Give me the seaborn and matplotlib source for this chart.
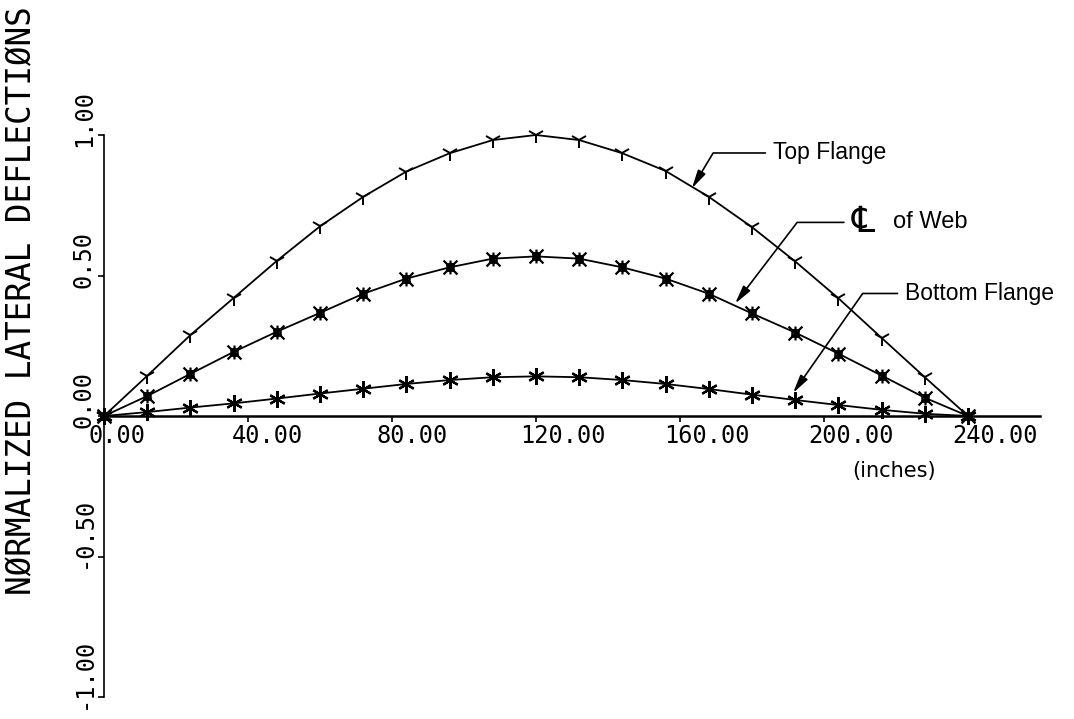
import matplotlib
matplotlib.use("Agg")
import matplotlib.pyplot as plt
import matplotlib.transforms as mtransforms
from matplotlib.path import Path
import seaborn as sns

# ---- data ----
x_in = [0, 12, 24, 36, 48, 60, 72, 84, 96, 108, 120,
        132, 144, 156, 168, 180, 192, 204, 216, 228, 240]
top_flange = [0.0, 0.143, 0.288, 0.42, 0.552, 0.675, 0.78, 0.87, 0.935, 0.982, 1.0,
              0.982, 0.935, 0.872, 0.78, 0.672, 0.55, 0.419, 0.278, 0.138, 0.0]
web_cl = [0.0, 0.071, 0.15, 0.228, 0.30, 0.367, 0.435, 0.489, 0.529, 0.56, 0.568,
          0.56, 0.529, 0.489, 0.435, 0.365, 0.297, 0.222, 0.144, 0.065, 0.0]
bottom_flange = [0.0, 0.014, 0.03, 0.045, 0.062, 0.08, 0.097, 0.114, 0.128, 0.138, 0.141,
                 0.138, 0.128, 0.114, 0.096, 0.076, 0.057, 0.039, 0.022, 0.008, 0.0]

x_ticks = [0, 40, 80, 120, 160, 200, 240]
x_ticklabels = ["0.00", "40.00", "80.00", "120.00", "160.00", "200.00", "240.00"]
y_ticks = [-1.0, -0.5, 0.0, 0.5, 1.0]
y_ticklabels = ["-1.00", "-0.50", "0.00", "0.50", "1.00"]

y_title = "NØRMALIZED LATERAL DEFLECTIØNS"
x_unit = "(inches)"

# ---- style ----
sns.set_style("white")
plt.rcParams["font.family"] = ["DejaVu Sans Mono", "DejaVu Sans"]
plt.rcParams["text.color"] = "black"
plt.rcParams["axes.labelcolor"] = "black"

fig = plt.figure(figsize=(10.74, 7.19), dpi=100)
ax = fig.add_axes([104 / 1074, 1 - 697 / 719, 936 / 1074, 562 / 719])
ax.set_xlim(0, 260)
ax.set_ylim(-1.0, 1.0)

# custom "boxed cross" marker for centre line of web
box_x = Path(
    [(-0.45, -0.45), (0.45, -0.45), (0.45, 0.45), (-0.45, 0.45), (-0.45, -0.45),
     (-1, -1), (1, 1), (-1, 1), (1, -1), (0, -1), (0, 1)],
    [Path.MOVETO, Path.LINETO, Path.LINETO, Path.LINETO, Path.CLOSEPOLY,
     Path.MOVETO, Path.LINETO, Path.MOVETO, Path.LINETO, Path.MOVETO, Path.LINETO])

line_kw = dict(color="black", linewidth=1.3, clip_on=False, ax=ax,
               markeredgecolor="black")
sns.lineplot(x=x_in, y=top_flange, marker="1", markersize=12, markeredgewidth=1.4, **line_kw)
sns.lineplot(x=x_in, y=web_cl, marker=box_x, markersize=10, markeredgewidth=1.6,
             markerfacecolor="none", **line_kw)
sns.lineplot(x=x_in, y=bottom_flange, marker=(6, 2, 0), markersize=12,
             markeredgewidth=1.6, **line_kw)

# ---- axes / spines ----
for s in ["top", "right"]:
    ax.spines[s].set_visible(False)
ax.spines["bottom"].set_position(("data", 0))
ax.spines["bottom"].set_linewidth(1.8)
ax.spines["left"].set_linewidth(1.2)
ax.spines["left"].set_color("black")
ax.spines["bottom"].set_color("black")

ax.set_xticks(x_ticks)
ax.set_xticklabels(x_ticklabels)
ax.set_yticks(y_ticks)
ax.set_yticklabels(y_ticklabels)
ax.tick_params(axis="x", direction="out", length=4.5, width=1.2, pad=1,
               labelsize=17, colors="black", bottom=True)
ax.tick_params(axis="y", direction="out", length=4, width=1.2, pad=10.5,
               labelsize=17, colors="black", left=True)

dx = mtransforms.ScaledTranslation(-0.16, 0, fig.dpi_scale_trans)
for lab in ax.get_xticklabels():
    lab.set_horizontalalignment("left")
    lab.set_transform(lab.get_transform() + dx)

dy = mtransforms.ScaledTranslation(0, -0.12, fig.dpi_scale_trans)
for lab in ax.get_yticklabels():
    lab.set_rotation(90)
    lab.set_rotation_mode("anchor")
    lab.set_horizontalalignment("left")
    lab.set_verticalalignment("center")
    lab.set_transform(lab.get_transform() + dy)

ax.set_xlabel("")
ax.set_ylabel(y_title, fontsize=23.5, color="black", ha="center", va="center")
ax.yaxis.set_label_coords(-0.0876, 0.7046)

ax.text(219.5, -0.197, x_unit, fontsize=15, family="DejaVu Sans",
        ha="center", va="center", color="black")

# ---- annotations ----
ann_font = ["Liberation Sans", "DejaVu Sans"]
arrow_kw = dict(arrowstyle="-|>,head_length=0.55,head_width=0.13", color="black",
                lw=1.2, shrinkA=3, shrinkB=0, mutation_scale=20)

ax.annotate("Top Flange", xy=(163.3, 0.81), xytext=(185.8, 0.936),
            fontsize=16.5, family=ann_font, ha="left", va="center", color="black",
            arrowprops=dict(connectionstyle="angle,angleA=0,angleB=59,rad=0", **arrow_kw))

ax.annotate("\u2104", xy=(175.3, 0.40), xytext=(207.6, 0.689),
            fontsize=26, family=["DejaVu Sans"], ha="left", va="center", color="black",
            arrowprops=dict(connectionstyle="angle,angleA=0,angleB=52.6,rad=0", **arrow_kw))
ax.text(219.2, 0.689, "of Web", fontsize=17, family=ann_font, ha="left", va="center",
        color="black")

ax.annotate("Bottom Flange", xy=(191.4, 0.082), xytext=(222.5, 0.436),
            fontsize=16.5, family=ann_font, ha="left", va="center", color="black",
            arrowprops=dict(connectionstyle="angle,angleA=0,angleB=55,rad=0", **arrow_kw))

fig.savefig("out.png", dpi=100, facecolor="white")
